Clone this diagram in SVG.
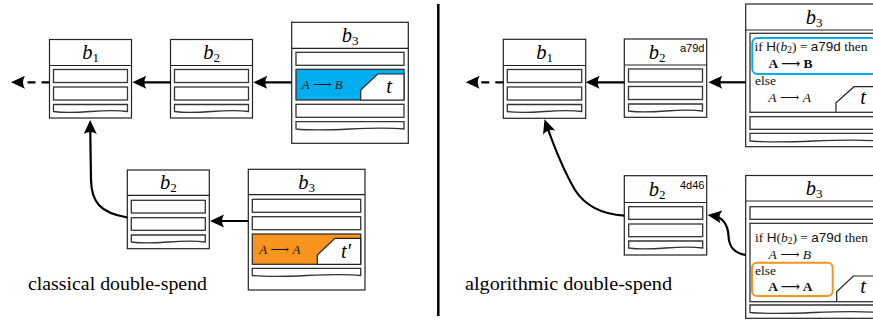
<svg xmlns="http://www.w3.org/2000/svg" width="873" height="320" viewBox="0 0 873 320">
  <style>
    .blk { fill: #fff; stroke: #222; stroke-width: 1.2; }
    .hdr { stroke: #222; stroke-width: 1.2; }
    .row { fill: #fff; stroke: #333; stroke-width: 1.3; }
    .conn { fill: none; stroke: #000; stroke-width: 2.2; }
    .dash { stroke-dasharray: 8 6; }
    .lbl { font-family: "Liberation Serif", "DejaVu Serif", serif; font-size: 20.5px; fill: #000; text-anchor: middle; }
    .it { font-style: italic; }
    .sub { font-size: 13px; font-style: normal; }
    .math { font-family: "Liberation Serif", "DejaVu Serif", serif; font-size: 13.5px; fill: #111; }
    .tx { font-size: 13px; }
    .sf { font-family: "Liberation Sans", "DejaVu Sans", sans-serif; }
    .hash { font-family: "Liberation Sans", "DejaVu Sans", sans-serif; font-size: 11px; fill: #000; }
    .bf { font-weight: bold; }
    .cap { font-family: "Liberation Serif", "DejaVu Serif", serif; font-size: 19.5px; fill: #000; }
    .notch { fill: #fff; stroke: #222; stroke-width: 1.2; }
  </style>
  <defs>
    <marker id="ah" markerUnits="userSpaceOnUse" markerWidth="16" markerHeight="16" viewBox="0 0 16 16" refX="9" refY="8" orient="auto">
      <path d="M15,8 L1,1.5 Q5,8 1,14.5 Z" fill="#000"/>
    </marker>
  </defs>

  <rect width="873" height="320" fill="#fff"/>

  <!-- left half: classical double-spend -->
  <g id="L-b1">
    <rect class="blk" x="49.5" y="39.5" width="82" height="78.5"/>
    <line class="hdr" x1="49.5" y1="65.5" x2="131.5" y2="65.5"/>
    <text class="lbl" x="90.5" y="59"><tspan class="it">b</tspan><tspan class="sub" dy="3">1</tspan></text>
    <rect class="row" x="53.5" y="69.5" width="74" height="13"/>
    <rect class="row" x="53.5" y="87" width="74" height="13"/>
    <path class="row" d="M53.5,104.5 H127.5 V111.5 C102.5,108 78.5,115 53.5,111.5 Z"/>
  </g>

  <g id="L-b2">
    <rect class="blk" x="170.5" y="39.5" width="82" height="78.5"/>
    <line class="hdr" x1="170.5" y1="65.5" x2="252.5" y2="65.5"/>
    <text class="lbl" x="211.5" y="59"><tspan class="it">b</tspan><tspan class="sub" dy="3">2</tspan></text>
    <rect class="row" x="174.5" y="69.5" width="74" height="13"/>
    <rect class="row" x="174.5" y="87" width="74" height="13"/>
    <path class="row" d="M174.5,104.5 H248.5 V111.5 C223.5,108 199.5,115 174.5,111.5 Z"/>
  </g>

  <g id="L-b3">
    <rect class="blk" x="291.7" y="22.3" width="116.6" height="121"/>
    <line class="hdr" x1="291.7" y1="48.3" x2="408.3" y2="48.3"/>
    <text class="lbl" x="350" y="42"><tspan class="it">b</tspan><tspan class="sub" dy="3">3</tspan></text>
    <rect class="row" x="296" y="52.3" width="108" height="13"/>
    <rect class="row" x="296" y="69.3" width="108" height="30.7" style="fill:#00aeef"/>
    <path class="notch" d="M360.7,100 V90 L377.7,74 H404 V100 Z"/>
    <text class="math tx" x="301.7" y="89"><tspan class="it">A</tspan> ⟶ <tspan class="it">B</tspan></text>
    <text class="lbl it" x="389" y="93">t</text>
    <rect class="row" x="296" y="104.3" width="108" height="13"/>
    <path class="row" d="M296,121.7 H404 V129 C368,125.5 332,132.5 296,129 Z"/>
  </g>

  <g id="L-b2-fork">
    <rect class="blk" x="127.3" y="170" width="82" height="78.7"/>
    <line class="hdr" x1="127.3" y1="195.3" x2="209.3" y2="195.3"/>
    <text class="lbl" x="168.3" y="189"><tspan class="it">b</tspan><tspan class="sub" dy="3">2</tspan></text>
    <rect class="row" x="131.3" y="200.3" width="74" height="12.7"/>
    <rect class="row" x="131.3" y="217.7" width="74" height="12.6"/>
    <path class="row" d="M131.3,235 H205.3 V242 C180.3,238.5 156.3,245.5 131.3,242 Z"/>
  </g>

  <g id="L-b3-fork">
    <rect class="blk" x="248.3" y="169.3" width="116.7" height="120.7"/>
    <line class="hdr" x1="248.3" y1="194.7" x2="365" y2="194.7"/>
    <text class="lbl" x="306.7" y="188.5"><tspan class="it">b</tspan><tspan class="sub" dy="3">3</tspan></text>
    <rect class="row" x="252.3" y="199.3" width="108.4" height="13"/>
    <rect class="row" x="252.3" y="216.7" width="108.4" height="13"/>
    <rect class="row" x="252.3" y="234" width="108.4" height="30.3" style="fill:#f7941d"/>
    <path class="notch" d="M317.3,264.3 V255 L335,238.3 H360.7 V264.3 Z"/>
    <text class="math tx" x="259.3" y="253.5"><tspan class="it">A</tspan> ⟶ <tspan class="it">A</tspan></text>
    <text class="lbl it" x="346" y="258.3">t′</text>
    <path class="row" d="M252.3,268.3 H360.7 V275.5 C324.7,272 288.3,279 252.3,275.5 Z"/>
  </g>

  <text class="cap" x="28" y="290" textLength="179" lengthAdjust="spacingAndGlyphs">classical double-spend</text>

  <!-- separator -->
  <line x1="438.3" y1="4" x2="438.3" y2="316" stroke="#000" stroke-width="2.5"/>

  <!-- right half: algorithmic double-spend -->
  <g id="R-b1">
    <rect class="blk" x="503.3" y="39.3" width="82.4" height="79"/>
    <line class="hdr" x1="503.3" y1="65.5" x2="585.7" y2="65.5"/>
    <text class="lbl" x="544.5" y="59"><tspan class="it">b</tspan><tspan class="sub" dy="3">1</tspan></text>
    <rect class="row" x="507.3" y="69.5" width="74.4" height="13"/>
    <rect class="row" x="507.3" y="87" width="74.4" height="13"/>
    <path class="row" d="M507.3,104.5 H581.7 V111.5 C556.7,108 532.3,115 507.3,111.5 Z"/>
  </g>

  <g id="R-b2">
    <rect class="blk" x="624.3" y="39" width="82.4" height="78.3"/>
    <line class="hdr" x1="624.3" y1="65" x2="706.7" y2="65"/>
    <text class="lbl" x="657" y="58.5"><tspan class="it">b</tspan><tspan class="sub" dy="3">2</tspan></text>
    <text class="hash" x="680" y="51.5">a79d</text>
    <rect class="row" x="628.5" y="69" width="74" height="13"/>
    <rect class="row" x="628.5" y="86.5" width="74" height="13"/>
    <path class="row" d="M628.5,104 H702.5 V111 C677.5,107.5 653.5,114.5 628.5,111 Z"/>
  </g>

  <g id="R-b3">
    <rect class="blk" x="745.7" y="4" width="136" height="142.7"/>
    <line class="hdr" x1="745.7" y1="30" x2="881.7" y2="30"/>
    <text class="lbl" x="814" y="24"><tspan class="it">b</tspan><tspan class="sub" dy="3">3</tspan></text>
    <rect class="row" x="750" y="33.3" width="128" height="79"/>
    <rect x="752.3" y="38" width="124" height="36" rx="5" fill="none" stroke="#00aeef" stroke-width="2"/>
    <text class="math" x="754.5" y="50.5">if <tspan class="sf">H</tspan>(<tspan class="it">b</tspan><tspan font-size="9.5" dy="2.5">2</tspan><tspan dy="-2.5">) = </tspan><tspan class="sf">a79d</tspan> then</text>
    <text class="math bf" x="768.5" y="67.5">A ⟶ B</text>
    <text class="math" x="755" y="84.5">else</text>
    <text class="math" x="768.3" y="101.5"><tspan class="it">A</tspan> ⟶ <tspan class="it">A</tspan></text>
    <path class="notch" d="M836,112.3 V102.7 L854,86.7 H878"/>
    <text class="lbl it" x="863" y="103.5">t</text>
    <rect class="row" x="750" y="116.7" width="128" height="12.6"/>
    <path class="row" d="M750,133.3 H878 V141 C835,137.5 793,144.5 750,141 Z"/>
  </g>

  <g id="R-b2-fork">
    <rect class="blk" x="624.3" y="175.7" width="82.4" height="79.3"/>
    <line class="hdr" x1="624.3" y1="202.5" x2="706.7" y2="202.5"/>
    <text class="lbl" x="657" y="195.5"><tspan class="it">b</tspan><tspan class="sub" dy="3">2</tspan></text>
    <text class="hash" x="680" y="188.5">4d46</text>
    <rect class="row" x="628.7" y="206.7" width="74" height="12.6"/>
    <rect class="row" x="628.7" y="224" width="74" height="12.7"/>
    <path class="row" d="M628.7,241 H702.7 V248 C677.7,244.5 653.7,251.5 628.7,248 Z"/>
  </g>

  <g id="R-b3-fork">
    <rect class="blk" x="745.7" y="175.5" width="136" height="142.8"/>
    <line class="hdr" x1="745.7" y1="201" x2="881.7" y2="201"/>
    <text class="lbl" x="814" y="195"><tspan class="it">b</tspan><tspan class="sub" dy="3">3</tspan></text>
    <rect class="row" x="750" y="206.7" width="128" height="12.6"/>
    <rect class="row" x="750" y="223.3" width="128" height="78.4"/>
    <text class="math" x="755" y="241.5">if <tspan class="sf">H</tspan>(<tspan class="it">b</tspan><tspan font-size="9.5" dy="2.5">2</tspan><tspan dy="-2.5">) = </tspan><tspan class="sf">a79d</tspan> then</text>
    <text class="math" x="768.5" y="258.5"><tspan class="it">A</tspan> ⟶ <tspan class="it">B</tspan></text>
    <rect x="752" y="262.7" width="80.7" height="33.3" rx="5" fill="none" stroke="#f7941d" stroke-width="2"/>
    <text class="math" x="755" y="274.5">else</text>
    <text class="math bf" x="768.3" y="291">A ⟶ A</text>
    <path class="notch" d="M836.7,301.7 V291.7 L853.3,276 H878"/>
    <text class="lbl it" x="863" y="293">t</text>
    <path class="row" d="M750,305 H878 V312.5 C835,309 793,316 750,312.5 Z"/>
  </g>

  <text class="cap" x="465" y="290" textLength="207" lengthAdjust="spacingAndGlyphs">algorithmic double-spend</text>

  <!-- connectors -->
  <g id="connectors">
    <path class="conn dash" d="M49.5,82.3 H17" marker-end="url(#ah)"/>
    <path class="conn" d="M170.5,82.3 H138.3" marker-end="url(#ah)"/>
    <path class="conn" d="M291.7,82.3 H259.3" marker-end="url(#ah)"/>
    <path class="conn" d="M248.3,221 H216" marker-end="url(#ah)"/>
    <path class="conn" d="M127.3,217.5 C100,213 91.5,202 91,180 L90.2,126" marker-end="url(#ah)"/>

    <path class="conn dash" d="M503.3,82.3 H471.7" marker-end="url(#ah)"/>
    <path class="conn" d="M624.3,82.3 H591.7" marker-end="url(#ah)"/>
    <path class="conn" d="M745.7,82.3 H714.3" marker-end="url(#ah)"/>
    <path class="conn" d="M745.7,255 C733,253 729,246 728.5,236 C728,224 722,217 713.5,215.8" marker-end="url(#ah)"/>
    <path class="conn" d="M624.3,215.7 C598,214 584,204 575,190 C568,178 556,152 546.5,125" marker-end="url(#ah)"/>
  </g>
</svg>
